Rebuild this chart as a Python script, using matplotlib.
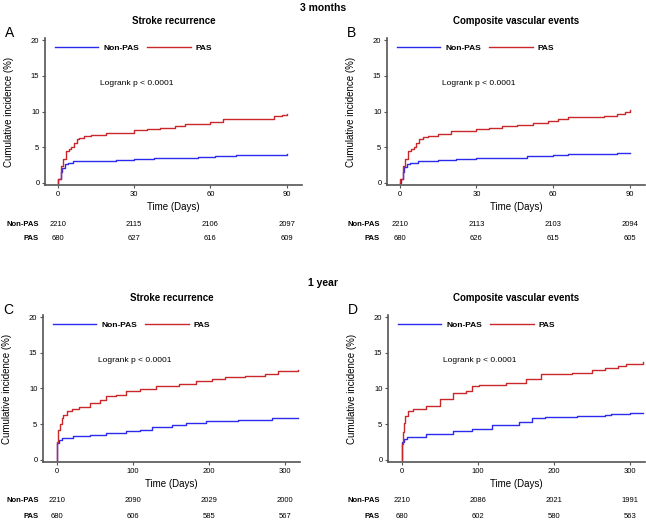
import matplotlib
matplotlib.use("Agg")
import matplotlib.pyplot as plt
from matplotlib.transforms import blended_transform_factory

plt.rcParams['font.family'] = ['Liberation Sans', 'DejaVu Sans']

BLUE = '#2b2bee'
RED = '#c9282a'

# --- data ---
# A: stroke recurrence, 3 months
a_pas_t = [0, 0.1, 1.4, 2, 3.4, 4.5, 5.4, 6.4, 7.4, 8.5, 10.4, 13, 19, 30, 35, 40, 46, 50, 55, 60, 65, 80, 85, 88, 90]
a_pas_v = [0, 0.6, 2.4, 3.3, 4.4, 4.7, 5.0, 5.6, 6.1, 6.3, 6.5, 6.7, 7.0, 7.4, 7.5, 7.7, 8.0, 8.2, 8.3, 8.5, 8.9, 9.0, 9.3, 9.5, 9.6]
a_non_t = [0, 0.3, 1.1, 1.8, 2.8, 4.1, 6, 12.7, 23, 30, 38, 45, 55, 62, 70, 80, 90]
a_non_v = [0, 0.5, 1.5, 2.1, 2.6, 2.8, 3.0, 3.1, 3.2, 3.35, 3.45, 3.55, 3.65, 3.75, 3.85, 3.95, 4.0]

# B: composite vascular events, 3 months
b_pas_t = [0, 0.1, 1.4, 2, 3.4, 4.5, 5.4, 6.4, 7.4, 9, 11, 15, 20, 30, 35, 40, 46, 52, 58, 62, 66, 80, 85, 88, 90]
b_pas_v = [0, 0.6, 2.4, 3.4, 4.4, 4.7, 5.0, 5.6, 6.1, 6.4, 6.6, 6.9, 7.2, 7.6, 7.7, 7.9, 8.1, 8.4, 8.6, 8.9, 9.2, 9.3, 9.6, 9.9, 10.2]
b_non_t = [0, 0.3, 1.1, 1.8, 2.8, 4.1, 7, 15, 22, 30, 40, 50, 60, 66, 75, 85, 90]
b_non_v = [0, 0.5, 1.5, 2.2, 2.6, 2.8, 3.05, 3.15, 3.3, 3.45, 3.55, 3.7, 3.85, 4.0, 4.05, 4.15, 4.2]

# C: stroke recurrence, 1 year
c_pas_t = [0, 1, 2.2, 4, 6.5, 8.7, 13, 19.6, 30, 43.5, 56.6, 65, 78, 91, 109, 130, 157, 161, 183, 204, 222, 248, 274, 291, 318]
c_pas_v = [0, 2.5, 4.2, 5.0, 5.8, 6.3, 6.9, 7.1, 7.4, 7.9, 8.4, 9.0, 9.1, 9.7, 9.95, 10.3, 10.4, 10.7, 11.1, 11.3, 11.6, 11.8, 12.1, 12.5, 12.6]
c_non_t = [0, 1, 3, 6.5, 22, 43.5, 65, 91, 109, 126, 152, 170, 196, 239, 283, 318]
c_non_v = [0, 2.3, 2.8, 3.0, 3.3, 3.5, 3.8, 4.1, 4.2, 4.6, 4.9, 5.1, 5.5, 5.6, 5.8, 5.85]

# D: composite vascular events, 1 year
d_pas_t = [0, 1, 2, 3, 4, 8, 15, 32, 50, 67, 85, 92, 102, 137, 163, 183, 224, 250, 268, 285, 295, 318]
d_pas_v = [0, 2.2, 3.9, 5.2, 6.2, 6.8, 7.1, 7.6, 8.5, 9.3, 9.7, 10.3, 10.5, 10.8, 11.3, 12.0, 12.2, 12.6, 12.9, 13.2, 13.5, 13.7]
d_non_t = [0, 1, 3, 7.5, 32, 67, 93, 119, 154, 172, 189, 230, 268, 275, 300, 318]
d_non_v = [0, 2.5, 2.9, 3.2, 3.6, 4.1, 4.3, 4.9, 5.35, 5.8, 6.05, 6.15, 6.25, 6.4, 6.55, 6.6]

ticks_3m = [0, 30, 60, 90]
ticks_1y = [0, 100, 200, 300]

risk_a_non = [2210, 2115, 2106, 2097]
risk_a_pas = [680, 627, 616, 609]
risk_b_non = [2210, 2113, 2103, 2094]
risk_b_pas = [680, 626, 615, 605]
risk_c_non = [2210, 2090, 2029, 2000]
risk_c_pas = [680, 606, 585, 567]
risk_d_non = [2210, 2086, 2021, 1991]
risk_d_pas = [680, 602, 580, 563]

W, H = 646, 520
fig = plt.figure(figsize=(W / 100, H / 100), dpi=100)


def px_axes(left, top, right, bottom):
    return fig.add_axes([left / W, 1 - bottom / H, (right - left) / W, (bottom - top) / H])


def panel(box, letter, title, non_t, non_v, pas_t, pas_v, xlim, ticks,
          risk_non, risk_pas, row_y, lab_x):
    left, top, right, bottom = box
    ax = px_axes(left, top, right, bottom)
    ax.plot(non_t, non_v, drawstyle='steps-post', color=BLUE, lw=1.0, label='Non-PAS')
    ax.plot(pas_t, pas_v, drawstyle='steps-post', color=RED, lw=1.0, label='PAS')
    ax.set_xlim(*xlim)
    ax.set_ylim(-0.3, 20.3)
    ax.set_xticks(ticks)
    ax.set_yticks([0, 5, 10, 15, 20])
    for s in ['top', 'right']:
        ax.spines[s].set_visible(False)
    for s in ['left', 'bottom']:
        ax.spines[s].set_linewidth(1.2)
        ax.spines[s].set_color('#555555')
    ax.tick_params(labelsize=5.5, length=2.5, width=0.8, pad=1.5, color='#555555')
    ax.set_xlabel('Time (Days)', fontsize=7, labelpad=3)
    ax.set_ylabel('Cumulative incidence (%)', fontsize=7, labelpad=12)
    ax.set_title(title, fontsize=7, fontweight='bold', pad=10)
    ax.text(0.215, 0.69, 'Logrank p < 0.0001', transform=ax.transAxes,
            fontsize=6, va='center', ha='left')
    ax.legend(loc='center left', bbox_to_anchor=(0.038, 0.932), ncol=2,
              frameon=False, prop={'weight': 'bold', 'size': 6},
              handlelength=5.2, handletextpad=0.6, columnspacing=1.0,
              borderpad=0, borderaxespad=0)
    fig.text((left - 40) / W, 1 - (top - 5) / H, letter, fontsize=10, va='center', ha='left')
    tr = blended_transform_factory(ax.transData, fig.transFigure)
    y1, y2 = row_y
    fig.text(lab_x / W, 1 - y1 / H, 'Non-PAS', fontsize=5.5, fontweight='bold', ha='right', va='center')
    fig.text(lab_x / W, 1 - y2 / H, 'PAS', fontsize=5.5, fontweight='bold', ha='right', va='center')
    for t, n, p in zip(ticks, risk_non, risk_pas):
        ax.text(t, 1 - y1 / H, str(n), transform=tr, fontsize=5.5, ha='center', va='center')
        ax.text(t, 1 - y2 / H, str(p), transform=tr, fontsize=5.5, ha='center', va='center')
    return ax


panel((45, 38, 302, 185), 'A', 'Stroke recurrence', a_non_t, a_non_v, a_pas_t, a_pas_v,
      (-5, 96), ticks_3m, risk_a_non, risk_a_pas, (224, 239), 39)
panel((387, 38, 645, 185), 'B', 'Composite vascular events', b_non_t, b_non_v, b_pas_t, b_pas_v,
      (-5, 96), ticks_3m, risk_b_non, risk_b_pas, (224, 239), 380)
panel((43, 315, 300, 462), 'C', 'Stroke recurrence', c_non_t, c_non_v, c_pas_t, c_pas_v,
      (-18, 320), ticks_1y, risk_c_non, risk_c_pas, (501, 516), 39)
panel((388, 315, 645, 462), 'D', 'Composite vascular events', d_non_t, d_non_v, d_pas_t, d_pas_v,
      (-18, 320), ticks_1y, risk_d_non, risk_d_pas, (501, 516), 380)

fig.text(323 / W, 1 - 8 / H, '3 months', fontsize=7.5, fontweight='bold', ha='center', va='center')
fig.text(323 / W, 1 - 283 / H, '1 year', fontsize=7.5, fontweight='bold', ha='center', va='center')

fig.savefig('out.png', dpi=100)
